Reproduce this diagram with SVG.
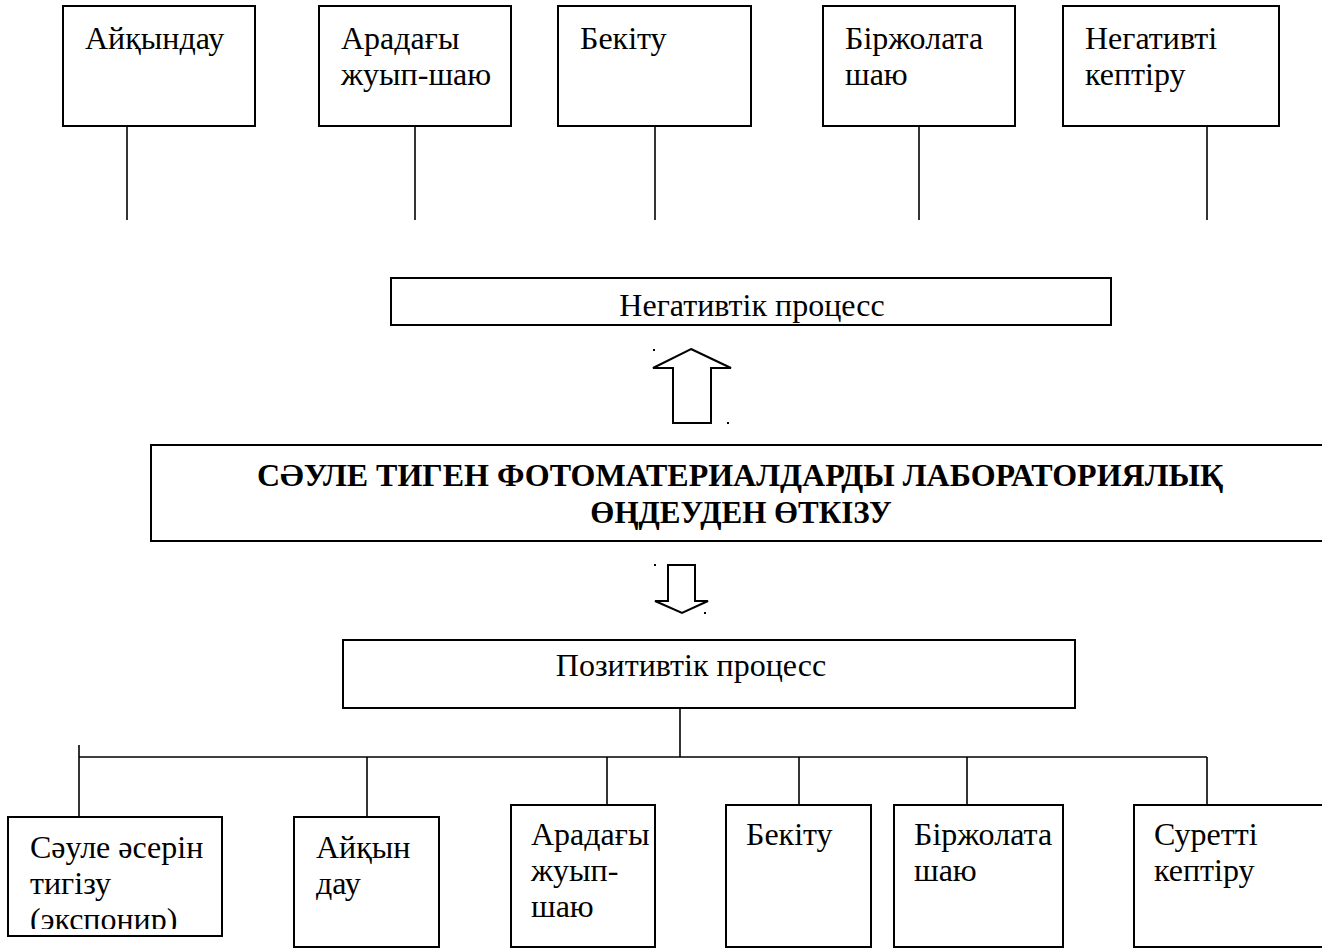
<svg xmlns="http://www.w3.org/2000/svg" width="1322" height="951" viewBox="0 0 1322 951">
<style>
.box{fill:#fff;stroke:#000;stroke-width:2}
.ln{stroke:#000;stroke-width:1.6;fill:none}
.t{font-family:"Liberation Serif","Times New Roman",serif;font-size:32px;fill:#000}
.b{font-family:"Liberation Serif","Times New Roman",serif;font-size:31px;font-weight:bold;fill:#000}
.arr{fill:#fff;stroke:#000;stroke-width:2;stroke-linejoin:miter}
</style>
<defs>
<clipPath id="clip1"><rect x="8" y="817" width="214" height="112"/></clipPath>
</defs>
<rect width="1322" height="951" fill="#fff"/>

<g id="connectors">
<line class="ln" x1="127" y1="126" x2="127" y2="220"/>
<line class="ln" x1="415" y1="126" x2="415" y2="220"/>
<line class="ln" x1="655" y1="126" x2="655" y2="220"/>
<line class="ln" x1="919" y1="126" x2="919" y2="220"/>
<line class="ln" x1="1207" y1="126" x2="1207" y2="220"/>
<line class="ln" x1="680" y1="696" x2="680" y2="757"/>
<line class="ln" x1="79" y1="757" x2="1207" y2="757"/>
<line class="ln" x1="79" y1="745" x2="79" y2="817"/>
<line class="ln" x1="367" y1="757" x2="367" y2="817"/>
<line class="ln" x1="607" y1="757" x2="607" y2="805"/>
<line class="ln" x1="799" y1="757" x2="799" y2="805"/>
<line class="ln" x1="967" y1="757" x2="967" y2="805"/>
<line class="ln" x1="1207" y1="757" x2="1207" y2="805"/>
<polygon class="arr" points="691,349 731,368 711,368 711,423 673,423 673,368 653,368"/>
<polygon class="arr" points="668,565 695,565 695,601 708,601 682,613 655,601 668,601"/>
<rect x="653" y="349" width="2" height="2" fill="#000"/>
<rect x="727" y="422" width="2" height="2" fill="#000"/>
<rect x="654" y="564" width="2" height="2" fill="#000"/>
<rect x="704" y="612" width="2" height="2" fill="#000"/>
</g>

<g id="top1"><rect class="box" x="63" y="6" width="192" height="120"/><text class="t" x="85" y="49">Айқындау</text></g>
<g id="top2"><rect class="box" x="319" y="6" width="192" height="120"/><text class="t" x="341" y="49">Арадағы</text><text class="t" x="341" y="85">жуып-шаю</text></g>
<g id="top3"><rect class="box" x="558" y="6" width="193" height="120"/><text class="t" x="580" y="49">Бекіту</text></g>
<g id="top4"><rect class="box" x="823" y="6" width="192" height="120"/><text class="t" x="845" y="49">Біржолата</text><text class="t" x="845" y="85">шаю</text></g>
<g id="top5"><rect class="box" x="1063" y="6" width="216" height="120"/><text class="t" x="1085" y="49">Негативті</text><text class="t" x="1085" y="85">кептіру</text></g>

<g id="neg"><rect class="box" x="391" y="278" width="720" height="47"/><text class="t" x="752" y="316" text-anchor="middle">Негативтік процесс</text></g>

<g id="main"><path class="box" d="M1330,445 H151 V541 H1330"/>
<text class="b" x="740" y="486" text-anchor="middle" style="font-size:32px">СӘУЛЕ ТИГЕН ФОТОМАТЕРИАЛДАРДЫ ЛАБОРАТОРИЯЛЫҚ</text>
<text class="b" x="741" y="523" text-anchor="middle">ӨҢДЕУДЕН ӨТКІЗУ</text></g>

<g id="pos"><rect class="box" x="343" y="640" width="732" height="68"/><text class="t" x="691" y="676" text-anchor="middle">Позитивтік процесс</text></g>

<g id="b1"><rect class="box" x="8" y="817" width="214" height="119"/>
<g clip-path="url(#clip1)"><text class="t" x="30" y="858">Сәуле әсерін</text><text class="t" x="30" y="894">тигізу</text><text class="t" x="30" y="930">(экспонир)</text></g></g>
<g id="b2"><rect class="box" x="294" y="817" width="145" height="130"/><text class="t" x="316" y="858">Айқын</text><text class="t" x="316" y="894">дау</text></g>
<g id="b3"><rect class="box" x="511" y="805" width="144" height="142"/><text class="t" x="531" y="845">Арадағы</text><text class="t" x="531" y="881">жуып-</text><text class="t" x="531" y="917">шаю</text></g>
<g id="b4"><rect class="box" x="726" y="805" width="145" height="142"/><text class="t" x="746" y="845">Бекіту</text></g>
<g id="b5"><rect class="box" x="894" y="805" width="169" height="142"/><text class="t" x="914" y="845">Біржолата</text><text class="t" x="914" y="881">шаю</text></g>
<g id="b6"><path class="box" d="M1330,805 H1134 V947 H1330"/><text class="t" x="1154" y="845">Суретті</text><text class="t" x="1154" y="881">кептіру</text></g>
</svg>
